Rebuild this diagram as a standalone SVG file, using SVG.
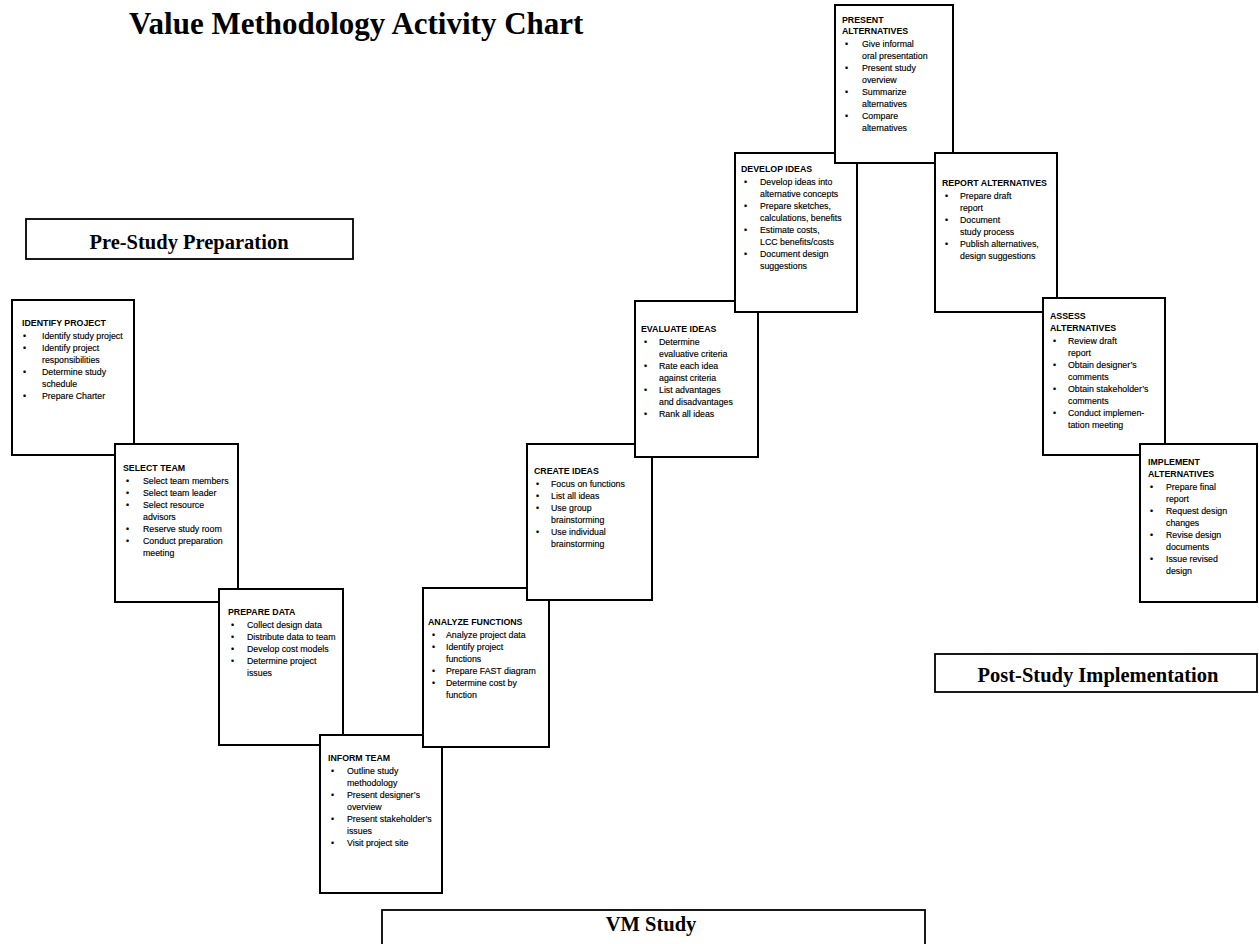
<svg xmlns="http://www.w3.org/2000/svg" width="1259" height="944" viewBox="0 0 1259 944">
<style>
.bx{fill:#fff;stroke:#000;stroke-width:2}
.lb{fill:#fff;stroke:#000;stroke-width:1.8}
.h{font-family:"Liberation Sans",Arial,sans-serif;font-size:8.8px;font-weight:bold;fill:#000}
.t{font-family:"Liberation Sans",Arial,sans-serif;font-size:8.8px;fill:#000;stroke:#000;stroke-width:0.15}
.ttl{font-family:"Liberation Serif","Times New Roman",serif;font-size:31px;font-weight:bold;fill:#000}
.lt{font-family:"Liberation Serif","Times New Roman",serif;font-size:20.5px;font-weight:bold;fill:#000;text-anchor:middle}
</style>
<rect width="1259" height="944" fill="#fff"/>
<text class="ttl" x="129" y="34">Value Methodology Activity Chart</text>
<g id="pre-study"><rect class="lb" x="26" y="219" width="327" height="40"/><text class="lt" x="189" y="249">Pre-Study Preparation</text></g>
<g id="post-study"><rect class="lb" x="935" y="654" width="322" height="38"/><text class="lt" x="1098" y="682">Post-Study Implementation</text></g>
<g id="vm-study"><rect class="lb" x="382" y="910" width="543" height="40"/><text class="lt" x="651" y="931">VM Study</text></g>
<g id="connectors"/>
<g id="identify-project"><rect class="bx" x="12" y="300" width="122" height="155"/>
<text class="h" x="22" y="326">IDENTIFY PROJECT</text>
<text class="t"><tspan x="23" y="339">•</tspan><tspan x="23" y="351">•</tspan><tspan x="23" y="375">•</tspan><tspan x="23" y="399">•</tspan></text>
<text class="t"><tspan x="42" y="339">Identify study project</tspan><tspan x="42" y="351">Identify project</tspan><tspan x="42" y="363">responsibilities</tspan><tspan x="42" y="375">Determine study</tspan><tspan x="42" y="387">schedule</tspan><tspan x="42" y="399">Prepare Charter</tspan></text></g>
<g id="select-team"><rect class="bx" x="115" y="444" width="123" height="158"/>
<text class="h" x="123" y="471">SELECT TEAM</text>
<text class="t"><tspan x="126" y="484">•</tspan><tspan x="126" y="496">•</tspan><tspan x="126" y="508">•</tspan><tspan x="126" y="532">•</tspan><tspan x="126" y="544">•</tspan></text>
<text class="t"><tspan x="143" y="484">Select team members</tspan><tspan x="143" y="496">Select team leader</tspan><tspan x="143" y="508">Select resource</tspan><tspan x="143" y="520">advisors</tspan><tspan x="143" y="532">Reserve study room</tspan><tspan x="143" y="544">Conduct preparation</tspan><tspan x="143" y="556">meeting</tspan></text></g>
<g id="prepare-data"><rect class="bx" x="219" y="589" width="124" height="156"/>
<text class="h" x="228" y="615">PREPARE DATA</text>
<text class="t"><tspan x="231" y="628">•</tspan><tspan x="231" y="640">•</tspan><tspan x="231" y="652">•</tspan><tspan x="231" y="664">•</tspan></text>
<text class="t"><tspan x="247" y="628">Collect design data</tspan><tspan x="247" y="640">Distribute data to team</tspan><tspan x="247" y="652">Develop cost models</tspan><tspan x="247" y="664">Determine project</tspan><tspan x="247" y="676">issues</tspan></text></g>
<g id="inform-team"><rect class="bx" x="320" y="735" width="122" height="158"/>
<text class="h" x="328" y="761">INFORM TEAM</text>
<text class="t"><tspan x="331" y="774">•</tspan><tspan x="331" y="798">•</tspan><tspan x="331" y="822">•</tspan><tspan x="331" y="846">•</tspan></text>
<text class="t"><tspan x="347" y="774">Outline study</tspan><tspan x="347" y="786">methodology</tspan><tspan x="347" y="798">Present designer’s</tspan><tspan x="347" y="810">overview</tspan><tspan x="347" y="822">Present stakeholder’s</tspan><tspan x="347" y="834">issues</tspan><tspan x="347" y="846">Visit project site</tspan></text></g>
<g id="analyze-functions"><rect class="bx" x="423" y="588" width="126" height="159"/>
<text class="h" x="428" y="625">ANALYZE FUNCTIONS</text>
<text class="t"><tspan x="432" y="638">•</tspan><tspan x="432" y="650">•</tspan><tspan x="432" y="674">•</tspan><tspan x="432" y="686">•</tspan></text>
<text class="t"><tspan x="446" y="638">Analyze project data</tspan><tspan x="446" y="650">Identify project</tspan><tspan x="446" y="662">functions</tspan><tspan x="446" y="674">Prepare FAST diagram</tspan><tspan x="446" y="686">Determine cost by</tspan><tspan x="446" y="698">function</tspan></text></g>
<g id="create-ideas"><rect class="bx" x="527" y="444" width="125" height="156"/>
<text class="h" x="534" y="474">CREATE IDEAS</text>
<text class="t"><tspan x="536" y="487">•</tspan><tspan x="536" y="499">•</tspan><tspan x="536" y="511">•</tspan><tspan x="536" y="535">•</tspan></text>
<text class="t"><tspan x="551" y="487">Focus on functions</tspan><tspan x="551" y="499">List all ideas</tspan><tspan x="551" y="511">Use group</tspan><tspan x="551" y="523">brainstorming</tspan><tspan x="551" y="535">Use individual</tspan><tspan x="551" y="547">brainstorming</tspan></text></g>
<g id="evaluate-ideas"><rect class="bx" x="635" y="301" width="123" height="156"/>
<text class="h" x="641" y="332">EVALUATE IDEAS</text>
<text class="t"><tspan x="644" y="345">•</tspan><tspan x="644" y="369">•</tspan><tspan x="644" y="393">•</tspan><tspan x="644" y="417">•</tspan></text>
<text class="t"><tspan x="659" y="345">Determine</tspan><tspan x="659" y="357">evaluative criteria</tspan><tspan x="659" y="369">Rate each idea</tspan><tspan x="659" y="381">against criteria</tspan><tspan x="659" y="393">List advantages</tspan><tspan x="659" y="405">and disadvantages</tspan><tspan x="659" y="417">Rank all ideas</tspan></text></g>
<g id="develop-ideas"><rect class="bx" x="735" y="153" width="122" height="159"/>
<text class="h" x="741" y="172">DEVELOP IDEAS</text>
<text class="t"><tspan x="744" y="185">•</tspan><tspan x="744" y="209">•</tspan><tspan x="744" y="233">•</tspan><tspan x="744" y="257">•</tspan></text>
<text class="t"><tspan x="760" y="185">Develop ideas into</tspan><tspan x="760" y="197">alternative concepts</tspan><tspan x="760" y="209">Prepare sketches,</tspan><tspan x="760" y="221">calculations, benefits</tspan><tspan x="760" y="233">Estimate costs,</tspan><tspan x="760" y="245">LCC benefits/costs</tspan><tspan x="760" y="257">Document design</tspan><tspan x="760" y="269">suggestions</tspan></text></g>
<g id="present-alternatives"><rect class="bx" x="835" y="5" width="118" height="158"/>
<text class="h"><tspan x="842" y="23">PRESENT</tspan><tspan x="842" y="34">ALTERNATIVES</tspan></text>
<text class="t"><tspan x="845" y="47">•</tspan><tspan x="845" y="71">•</tspan><tspan x="845" y="95">•</tspan><tspan x="845" y="119">•</tspan></text>
<text class="t"><tspan x="862" y="47">Give informal</tspan><tspan x="862" y="59">oral presentation</tspan><tspan x="862" y="71">Present study</tspan><tspan x="862" y="83">overview</tspan><tspan x="862" y="95">Summarize</tspan><tspan x="862" y="107">alternatives</tspan><tspan x="862" y="119">Compare</tspan><tspan x="862" y="131">alternatives</tspan></text></g>
<g id="report-alternatives"><rect class="bx" x="935" y="153" width="122" height="159"/>
<text class="h" x="942" y="186">REPORT ALTERNATIVES</text>
<text class="t"><tspan x="945" y="199">•</tspan><tspan x="945" y="223">•</tspan><tspan x="945" y="247">•</tspan></text>
<text class="t"><tspan x="960" y="199">Prepare draft</tspan><tspan x="960" y="211">report</tspan><tspan x="960" y="223">Document</tspan><tspan x="960" y="235">study process</tspan><tspan x="960" y="247">Publish alternatives,</tspan><tspan x="960" y="259">design suggestions</tspan></text></g>
<g id="assess-alternatives"><rect class="bx" x="1043" y="298" width="122" height="157"/>
<text class="h"><tspan x="1050" y="319">ASSESS</tspan><tspan x="1050" y="331">ALTERNATIVES</tspan></text>
<text class="t"><tspan x="1053" y="344">•</tspan><tspan x="1053" y="368">•</tspan><tspan x="1053" y="392">•</tspan><tspan x="1053" y="416">•</tspan></text>
<text class="t"><tspan x="1068" y="344">Review draft</tspan><tspan x="1068" y="356">report</tspan><tspan x="1068" y="368">Obtain designer’s</tspan><tspan x="1068" y="380">comments</tspan><tspan x="1068" y="392">Obtain stakeholder’s</tspan><tspan x="1068" y="404">comments</tspan><tspan x="1068" y="416">Conduct implemen-</tspan><tspan x="1068" y="428">tation meeting</tspan></text></g>
<g id="implement-alternatives"><rect class="bx" x="1140" y="444" width="117" height="158"/>
<text class="h"><tspan x="1148" y="465">IMPLEMENT</tspan><tspan x="1148" y="477">ALTERNATIVES</tspan></text>
<text class="t"><tspan x="1150" y="490">•</tspan><tspan x="1150" y="514">•</tspan><tspan x="1150" y="538">•</tspan><tspan x="1150" y="562">•</tspan></text>
<text class="t"><tspan x="1166" y="490">Prepare final</tspan><tspan x="1166" y="502">report</tspan><tspan x="1166" y="514">Request design</tspan><tspan x="1166" y="526">changes</tspan><tspan x="1166" y="538">Revise design</tspan><tspan x="1166" y="550">documents</tspan><tspan x="1166" y="562">Issue revised</tspan><tspan x="1166" y="574">design</tspan></text></g>
</svg>
